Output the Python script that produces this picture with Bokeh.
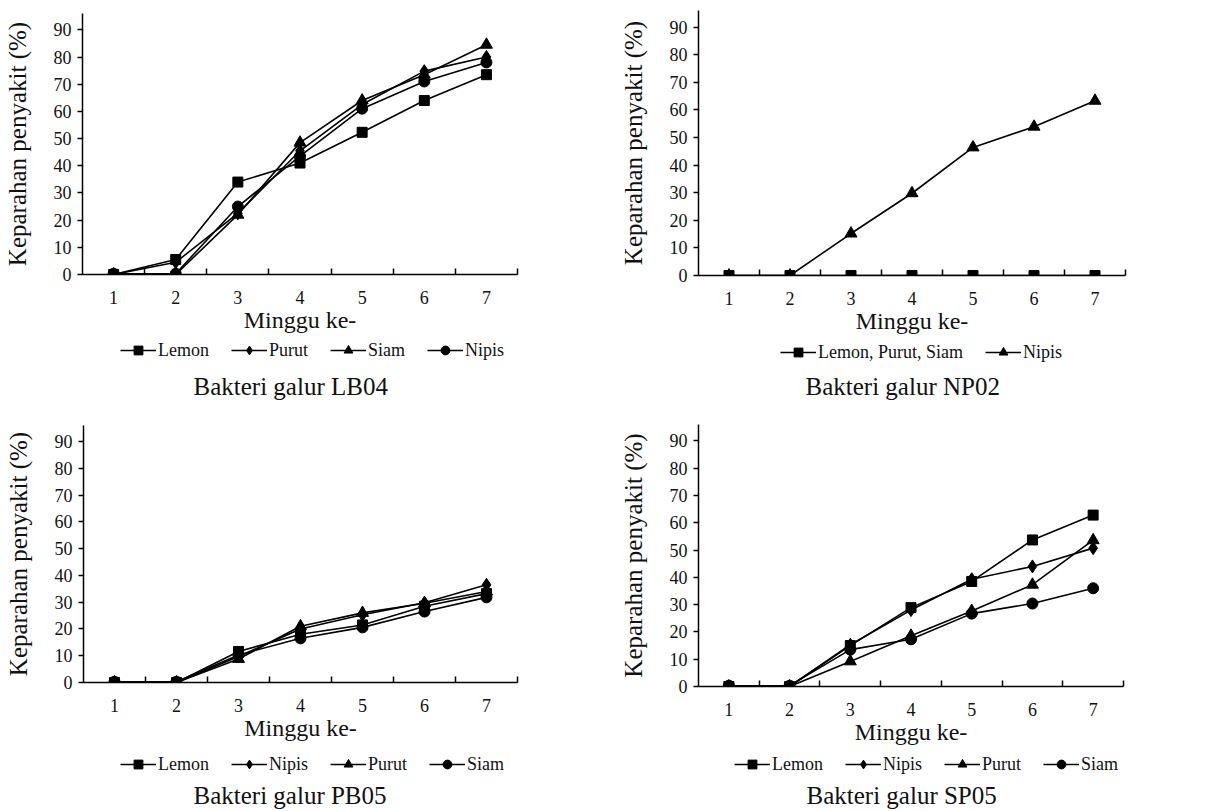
from bokeh.plotting import figure
from bokeh.models import FixedTicker, Legend, LegendItem, Title, Range1d
from bokeh.layouts import column, row
from bokeh.embed import file_html
from bokeh.resources import INLINE

# ---------------- data ----------------
weeks = [1, 2, 3, 4, 5, 6, 7]
y_ticks = [0, 10, 20, 30, 40, 50, 60, 70, 80, 90]

# Bakteri galur LB04
lb04_lemon = [0, 5.5, 34, 41, 52.3, 64, 73.5]
lb04_purut = [0, 4.5, 22.5, 45.5, 62.5, 74.8, 80]
lb04_siam = [0, 0, 22, 48.5, 64, 73.5, 84.5]
lb04_nipis = [0.3, 0.3, 25, 43.5, 61, 71, 78]

# Bakteri galur NP02
np02_lps = [0, 0, 0, 0, 0, 0, 0]
np02_nipis = [0, 0, 15.2, 29.8, 46.4, 53.9, 63.3]

# Bakteri galur PB05
pb05_lemon = [0, 0, 11.6, 18, 21.5, 28.5, 33.2]
pb05_nipis = [0, 0, 9.7, 20, 25.3, 29.8, 36.5]
pb05_purut = [0, 0, 8.8, 21, 26, 29.6, 34]
pb05_siam = [0.3, 0.3, 10.3, 16.5, 20.6, 26.5, 31.8]

# Bakteri galur SP05
sp05_lemon = [0, 0, 15, 28.9, 38.5, 53.7, 62.8]
sp05_nipis = [0, 0, 15.3, 28, 39.3, 44, 50.7]
sp05_purut = [0, 0, 9.2, 18.6, 27.7, 37.3, 53.6]
sp05_siam = [0.3, 0.3, 13.5, 17.3, 26.7, 30.4, 36]

FONT = "Liberation Serif"
TXT = "#111111"
MSIZE = {"square": 10, "diamond": 13, "triangle": 12, "circle": 11}
AXIS_PANEL = 66


def make_panel(series, title, fw, fh, left, right, top,
               leg_frame_h, leg_fig_h, leg_x, leg_y, title_standoff, title_x):
    w = left + fw + right
    p = figure(width=w, height=top + fh + AXIS_PANEL,
               min_border_left=left, min_border_right=right,
               min_border_top=top, min_border_bottom=AXIS_PANEL,
               x_range=Range1d(0.5, 7.5), y_range=Range1d(0, 96),
               output_backend="svg", toolbar_location=None, tools="")
    p.outline_line_color = None
    p.xgrid.visible = False
    p.ygrid.visible = False

    xa = p.xaxis[0]
    xa.ticker = FixedTicker(ticks=weeks, minor_ticks=[1.5, 2.5, 3.5, 4.5, 5.5, 6.5, 7.5])
    xa.major_tick_in = 0
    xa.major_tick_out = 0
    xa.minor_tick_in = 6
    xa.minor_tick_out = 0
    xa.minor_tick_line_color = "black"
    xa.minor_tick_line_width = 1.5
    xa.axis_line_color = "black"
    xa.axis_line_width = 1.5
    xa.major_label_standoff = 16
    xa.major_label_text_font = FONT
    xa.major_label_text_font_size = "18px"
    xa.major_label_text_color = TXT
    xa.axis_label = "Minggu ke-"
    xa.axis_label_standoff = 0
    xa.axis_label_text_font = FONT
    xa.axis_label_text_font_size = "24px"
    xa.axis_label_text_font_style = "normal"
    xa.axis_label_text_color = TXT

    ya = p.yaxis[0]
    ya.ticker = FixedTicker(ticks=y_ticks, minor_ticks=[])
    ya.major_tick_in = 0
    ya.major_tick_out = 5
    ya.major_tick_line_width = 1.5
    ya.major_tick_line_color = "black"
    ya.minor_tick_in = 0
    ya.minor_tick_out = 0
    ya.axis_line_color = "black"
    ya.axis_line_width = 1.5
    ya.major_label_standoff = 6
    ya.major_label_text_font = FONT
    ya.major_label_text_font_size = "18px"
    ya.major_label_text_color = TXT
    ya.axis_label = "Keparahan penyakit (%)"
    ya.axis_label_standoff = 20
    ya.axis_label_text_font = FONT
    ya.axis_label_text_font_size = "25px"
    ya.axis_label_text_font_style = "normal"
    ya.axis_label_text_color = TXT

    for label, vals, marker in series:
        p.line(weeks, vals, line_color="black", line_width=1.6)
        p.scatter(weeks, vals, marker=marker, size=MSIZE[marker],
                  fill_color="black", line_color="black")

    # legend + caption strip below the chart (its ranges keep the series out of view,
    # so only the legend swatches of these renderers are shown)
    q = figure(width=w, height=leg_fig_h,
               min_border_left=left, min_border_right=right,
               min_border_top=0, min_border_bottom=leg_fig_h - leg_frame_h,
               x_range=Range1d(-20, -10), y_range=Range1d(-20, -10),
               x_axis_type=None, y_axis_type=None,
               output_backend="svg", toolbar_location=None, tools="")
    q.outline_line_color = None
    items = []
    for label, vals, marker in series:
        ln = q.line(weeks, vals, line_color="black", line_width=1.6)
        sc = q.scatter(weeks, vals, marker=marker, size=MSIZE[marker],
                       fill_color="black", line_color="black")
        items.append(LegendItem(label=label, renderers=[ln, sc]))
    leg = Legend(items=items, orientation="horizontal", location=(leg_x, leg_y),
                 border_line_color=None, background_fill_alpha=0,
                 glyph_width=36, glyph_height=22, label_height=20,
                 label_standoff=2, spacing=22, padding=0, margin=0,
                 label_text_font=FONT, label_text_font_size="18px",
                 label_text_color=TXT)
    q.add_layout(leg)
    t = Title(text=title, align="left", text_font=FONT, text_font_size="25px",
              text_font_style="normal", text_color=TXT, standoff=title_standoff,
              offset=title_x)
    q.add_layout(t, "below")
    return column(p, q)


c1 = make_panel([("Lemon", lb04_lemon, "square"),
                 ("Purut", lb04_purut, "diamond"),
                 ("Siam", lb04_siam, "triangle"),
                 ("Nipis", lb04_nipis, "circle")],
                "Bakteri galur LB04", 435, 261, 82, 91, 13,
                28, 73, 38, 7, 4, 111)

c2 = make_panel([("Lemon, Purut, Siam", np02_lps, "square"),
                 ("Nipis", np02_nipis, "triangle")],
                "Bakteri galur NP02", 427, 265, 90, 85, 10,
                28, 72, 82, 6, 3, 107)

c3 = make_panel([("Lemon", pb05_lemon, "square"),
                 ("Nipis", pb05_nipis, "diamond"),
                 ("Purut", pb05_purut, "triangle"),
                 ("Siam", pb05_siam, "circle")],
                "Bakteri galur PB05", 434, 257, 83, 91, 12,
                32, 62, 37, 3, 3, 110)

c4 = make_panel([("Lemon", sp05_lemon, "square"),
                 ("Nipis", sp05_nipis, "diamond"),
                 ("Purut", sp05_purut, "triangle"),
                 ("Siam", sp05_siam, "circle")],
                "Bakteri galur SP05", 425, 262, 90, 87, 11,
                28, 58, 36, 3, 3, 108)

layout = column(row(c1, c2), row(c3, c4))
open("out.html", "w").write(file_html(layout, INLINE))
